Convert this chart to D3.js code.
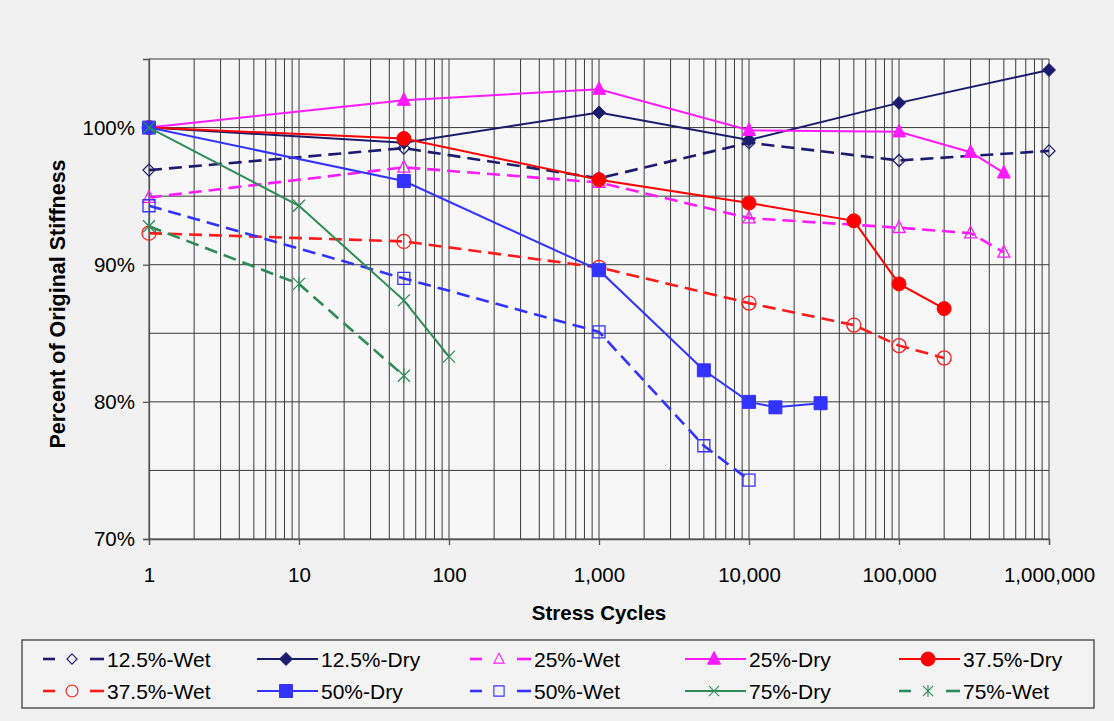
<!DOCTYPE html>
<html>
<head>
<meta charset="utf-8">
<script src="https://cdn.jsdelivr.net/npm/d3@7"></script>
<style>
  body { margin: 0; background: #f1f1f1; }
  svg { display: block; }
  text { font-family: "Liberation Sans", Arial, sans-serif; fill: #000; }
</style>
</head>
<body>
<div id="chart"></div>
<script>
// data (cycles, % of original stiffness)
const wet125Cycles = [1, 50, 1000, 10000, 100000, 1000000];
const wet125Values = [96.9, 98.5, 96.3, 98.9, 97.6, 98.3];

const dry125Cycles = [1, 50, 1000, 10000, 100000, 1000000];
const dry125Values = [100, 98.9, 101.1, 99.1, 101.8, 104.2];

const wet25Cycles = [1, 50, 1000, 10000, 100000, 300000, 500000];
const wet25Values = [94.9, 97.1, 96.0, 93.4, 92.7, 92.3, 90.9];

const dry25Cycles = [1, 50, 1000, 10000, 100000, 300000, 500000];
const dry25Values = [100, 102.0, 102.8, 99.8, 99.7, 98.2, 96.7];

const dry375Cycles = [1, 50, 1000, 10000, 50000, 100000, 200000];
const dry375Values = [100, 99.2, 96.2, 94.5, 93.2, 88.6, 86.8];

const wet375Cycles = [1, 50, 1000, 10000, 50000, 100000, 200000];
const wet375Values = [92.3, 91.7, 89.8, 87.2, 85.6, 84.1, 83.2];

const dry50Cycles = [1, 50, 1000, 5000, 10000, 15000, 30000];
const dry50Values = [100, 96.1, 89.6, 82.3, 80.0, 79.6, 79.9];

const wet50Cycles = [1, 50, 1000, 5000, 10000];
const wet50Values = [94.3, 89.0, 85.1, 76.8, 74.3];

const dry75Cycles = [1, 10, 50, 100];
const dry75Values = [100, 94.3, 87.4, 83.3];

const wet75Cycles = [1, 10, 50];
const wet75Values = [92.8, 88.6, 81.9];

const yTickValues = [70, 80, 90, 100];
const xTickValues = [1, 10, 100, 1000, 10000, 100000, 1000000];

const series = [
  { name: "12.5%-Wet", cycles: wet125Cycles, values: wet125Values },
  { name: "12.5%-Dry", cycles: dry125Cycles, values: dry125Values },
  { name: "25%-Wet", cycles: wet25Cycles, values: wet25Values },
  { name: "25%-Dry", cycles: dry25Cycles, values: dry25Values },
  { name: "37.5%-Dry", cycles: dry375Cycles, values: dry375Values },
  { name: "37.5%-Wet", cycles: wet375Cycles, values: wet375Values },
  { name: "50%-Dry", cycles: dry50Cycles, values: dry50Values },
  { name: "50%-Wet", cycles: wet50Cycles, values: wet50Values },
  { name: "75%-Dry", cycles: dry75Cycles, values: dry75Values },
  { name: "75%-Wet", cycles: wet75Cycles, values: wet75Values }
];

// look of each series
const styles = {
  "12.5%-Wet": { color: "#1c1c6e", dash: true, marker: "diamond", filled: false },
  "12.5%-Dry": { color: "#1c1c6e", dash: false, marker: "diamond", filled: true },
  "25%-Wet": { color: "#ff1aff", dash: true, marker: "triangle", filled: false },
  "25%-Dry": { color: "#ff1aff", dash: false, marker: "triangle", filled: true },
  "37.5%-Dry": { color: "#ff0000", dash: false, marker: "circle", filled: true },
  "37.5%-Wet": { color: "#ff1a1a", dash: true, marker: "circle", filled: false },
  "50%-Dry": { color: "#3333ff", dash: false, marker: "square", filled: true },
  "50%-Wet": { color: "#3333ff", dash: true, marker: "square", filled: false },
  "75%-Dry": { color: "#2e8b57", dash: false, marker: "x", filled: false },
  "75%-Wet": { color: "#2e8b57", dash: true, marker: "star", filled: false }
};

const W = 1114, H = 721;
const plot = { left: 149, right: 1049, top: 59, bottom: 539 };

const svg = d3.select("#chart").append("svg")
  .attr("width", W)
  .attr("height", H);

const x = d3.scaleLog().domain([1, 1000000]).range([plot.left, plot.right]);
const y = d3.scaleLinear().domain([70, 105]).range([plot.bottom, plot.top]);

svg.append("rect")
  .attr("x", plot.left).attr("y", plot.top)
  .attr("width", plot.right - plot.left).attr("height", plot.bottom - plot.top)
  .attr("fill", "#f7f7f7");

// grid
svg.append("g").selectAll("line")
  .data(x.ticks())
  .join("line")
  .attr("x1", d => x(d)).attr("x2", d => x(d))
  .attr("y1", plot.top).attr("y2", plot.bottom)
  .attr("stroke", "#3a3a3a").attr("stroke-width", 1);

svg.append("g").selectAll("line")
  .data(d3.range(70, 106, 5))
  .join("line")
  .attr("x1", plot.left).attr("x2", plot.right)
  .attr("y1", d => y(d)).attr("y2", d => y(d))
  .attr("stroke", "#3a3a3a").attr("stroke-width", 1);

// axes
const xAxis = svg.append("g")
  .attr("transform", `translate(0,${plot.bottom})`)
  .call(d3.axisBottom(x).tickValues(xTickValues).tickFormat(d3.format(",")).tickSize(6).tickPadding(22));

const yAxis = svg.append("g")
  .attr("transform", `translate(${plot.left},0)`)
  .call(d3.axisLeft(y).tickValues(yTickValues).tickFormat(d => d + "%").tickSize(6).tickPadding(8));

[xAxis, yAxis].forEach(a => {
  a.selectAll("path, line").attr("stroke", "#555").attr("stroke-width", 1.3);
  a.selectAll("text").attr("font-size", 20.5).attr("font-family", "Liberation Sans, Arial, sans-serif");
});

svg.append("text")
  .attr("x", 599).attr("y", 620)
  .attr("text-anchor", "middle")
  .attr("font-size", 20.5).attr("font-weight", "bold")
  .text("Stress Cycles");

svg.append("text")
  .attr("transform", `translate(65,304) rotate(-90)`)
  .attr("text-anchor", "middle")
  .attr("font-size", 21.5).attr("font-weight", "bold")
  .text("Percent of Original Stiffness");

// marker shapes
function markerPath(kind, filled) {
  const r = filled ? 6.5 : 6;
  if (kind === "diamond") return `M0,${-r}L${r},0L0,${r}L${-r},0Z`;
  if (kind === "square") return `M${-r},${-r}H${r}V${r}H${-r}Z`;
  if (kind === "triangle") return `M0,${-r * 1.15}L${r},${r * 0.8}L${-r},${r * 0.8}Z`;
  if (kind === "circle") return d3.symbol(d3.symbolCircle, Math.PI * 7 * 7)();
  if (kind === "x") return `M${-r},${-r}L${r},${r}M${r},${-r}L${-r},${r}`;
  if (kind === "star") return `M${-r},${-r}L${r},${r}M${r},${-r}L${-r},${r}M0,${-r * 1.2}V${r * 1.2}`;
  return "";
}

function drawMarker(g, kind, filled, color, scale) {
  const open = !filled;
  g.append("path")
    .attr("d", markerPath(kind, filled))
    .attr("transform", scale ? `scale(${scale})` : null)
    .attr("fill", open || kind === "x" || kind === "star" ? "none" : color)
    .attr("stroke", color)
    .attr("stroke-width", open ? 1.3 : 1);
}

const line = d3.line().x(d => x(d[0])).y(d => y(d[1]));

series.forEach(s => {
  const st = styles[s.name];
  const pts = s.cycles.map((c, i) => [c, s.values[i]]);
  svg.append("path")
    .datum(pts)
    .attr("d", line)
    .attr("fill", "none")
    .attr("stroke", st.color)
    .attr("stroke-width", st.dash ? 2.6 : 2)
    .attr("stroke-dasharray", st.dash ? "13,7" : null);
  svg.append("g").selectAll("g")
    .data(pts)
    .join("g")
    .attr("transform", d => `translate(${x(d[0])},${y(d[1])})`)
    .each(function () { drawMarker(d3.select(this), st.marker, st.filled, st.color); });
});

// legend
const legend = svg.append("g");
legend.append("rect")
  .attr("x", 22).attr("y", 640).attr("width", 1072).attr("height", 68)
  .attr("fill", "#f3f3f3").attr("stroke", "#555").attr("stroke-width", 1.5);

const colX = [43, 257, 470, 685, 899];
const rowY = [659, 691];
series.forEach((s, i) => {
  const st = styles[s.name];
  const g = legend.append("g")
    .attr("transform", `translate(${colX[i % 5]},${rowY[Math.floor(i / 5)]})`);
  if (st.dash) {
    g.append("line").attr("x1", 0).attr("x2", 12).attr("stroke", st.color).attr("stroke-width", 2.6);
    g.append("line").attr("x1", 47).attr("x2", 61).attr("stroke", st.color).attr("stroke-width", 2.6);
  } else {
    g.append("line").attr("x1", 0).attr("x2", 61).attr("stroke", st.color).attr("stroke-width", 2);
  }
  drawMarker(g.append("g").attr("transform", "translate(29,0)"), st.marker, st.filled, st.color, st.filled ? 1 : 0.85);
  g.append("text")
    .attr("x", 64).attr("y", 7.5)
    .attr("font-size", 21)
    .text(s.name);
});
</script>
</body>
</html>
